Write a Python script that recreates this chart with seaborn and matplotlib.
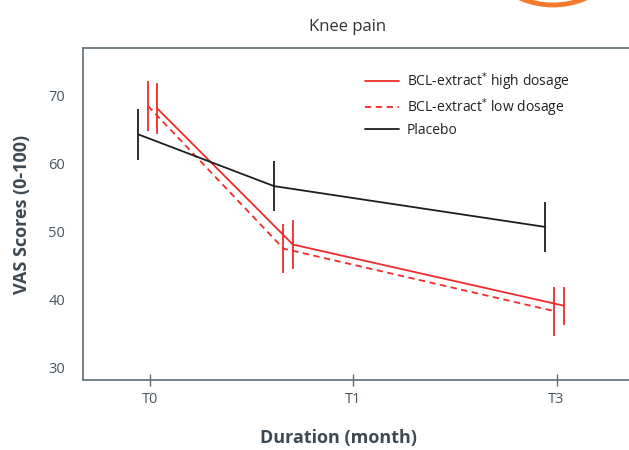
import numpy as np
import pandas as pd
import matplotlib
matplotlib.use("Agg")
import matplotlib.pyplot as plt
from matplotlib.patches import Ellipse
import seaborn as sns

# data (months since start, mean VAS, +/- error)
months = [0, 1, 3]
tick_pos = [0, 1.5, 3]
tick_labels = ["T0", "T1", "T3"]
groups = ["BCL-extract* high dosage", "BCL-extract* low dosage", "Placebo"]
high_mean = [68.1, 48.1, 39.1]
high_err = [3.7, 3.65, 2.8]
low_mean = [68.5, 47.5, 38.3]
low_err = [3.65, 3.6, 3.6]
placebo_mean = [64.3, 56.7, 50.7]
placebo_err = [3.7, 3.65, 3.7]
offsets = [0.055, -0.015, -0.085]

sns.set_theme(style="white")
plt.rcParams["font.family"] = ["Open Sans", "DejaVu Sans"]

rows = []
for g, m, e, off in zip(groups, [high_mean, low_mean, placebo_mean],
                        [high_err, low_err, placebo_err], offsets):
    for x, v, err in zip(months, m, e):
        rows.append({"group": g, "month": x + off, "vas": v, "err": err})
df = pd.DataFrame(rows)

red = "#ee2b2b"
black = "#1e1e1e"
palette = {groups[0]: red, groups[1]: red, groups[2]: black}
dashes = {groups[0]: "", groups[1]: (3.5, 2.5), groups[2]: ""}

fig = plt.figure(figsize=(6.29, 4.50), dpi=100)
ax = fig.add_axes([0.132, 0.156, 0.868, 0.737])

sns.lineplot(data=df, x="month", y="vas", hue="group", style="group",
             palette=palette, dashes=dashes, linewidth=1.3, ax=ax,
             hue_order=groups, style_order=groups)

for g in groups:
    sub = df[df["group"] == g]
    ax.errorbar(sub["month"], sub["vas"], yerr=sub["err"], fmt="none",
                ecolor=palette[g], elinewidth=1.3, capsize=0)

ax.set_xlim(-0.494, 3.535)
ax.set_ylim(28.2, 77)
ax.set_xticks(tick_pos)
ax.set_xticklabels(tick_labels)
ax.set_yticks([30, 40, 50, 60, 70])

spine_c = "#5f6b73"
for s in ["left", "bottom", "top"]:
    ax.spines[s].set_color(spine_c)
    ax.spines[s].set_linewidth(1.2)
ax.spines["right"].set_visible(False)
ax.tick_params(axis="x", bottom=True, direction="inout", length=8, width=1,
               color=spine_c, labelsize=10.5, labelcolor="#4a5560", pad=5)
ax.tick_params(axis="y", left=False, length=0, labelsize=10.5,
               labelcolor="#4a5560", pad=13)

ax.set_xlabel("Duration (month)", fontsize=13, fontweight="bold",
              color="#3d4953", va="center")
ax.set_ylabel("VAS Scores (0-100)", fontsize=13, fontweight="bold",
              color="#3d4953", labelpad=12)
ax.xaxis.set_label_coords((338 - 83) / (0.868 * 629), -0.175)

fig.text(348 / 629, 1 - 27 / 450, "Knee pain", ha="center", va="center",
         fontsize=12, color="#333333")

leg = ax.legend(loc="upper left", bbox_to_anchor=(0.494, 0.97), frameon=False,
                fontsize=10, handlelength=2.4, labelspacing=0.25,
                handletextpad=0.6)
for t in leg.get_texts():
    t.set_color("#222222")
leg.get_texts()[0].set_text("BCL-extract$^{*}$ high dosage")
leg.get_texts()[1].set_text("BCL-extract$^{*}$ low dosage")

fig.patches.append(Ellipse((553 / 629, 1 + 77 / 450), 2 * 82 / 629, 2 * 82 / 450,
                           transform=fig.transFigure, fill=False,
                           edgecolor="#f27a2c", linewidth=3.5))

fig.savefig("out.png", dpi=100)
